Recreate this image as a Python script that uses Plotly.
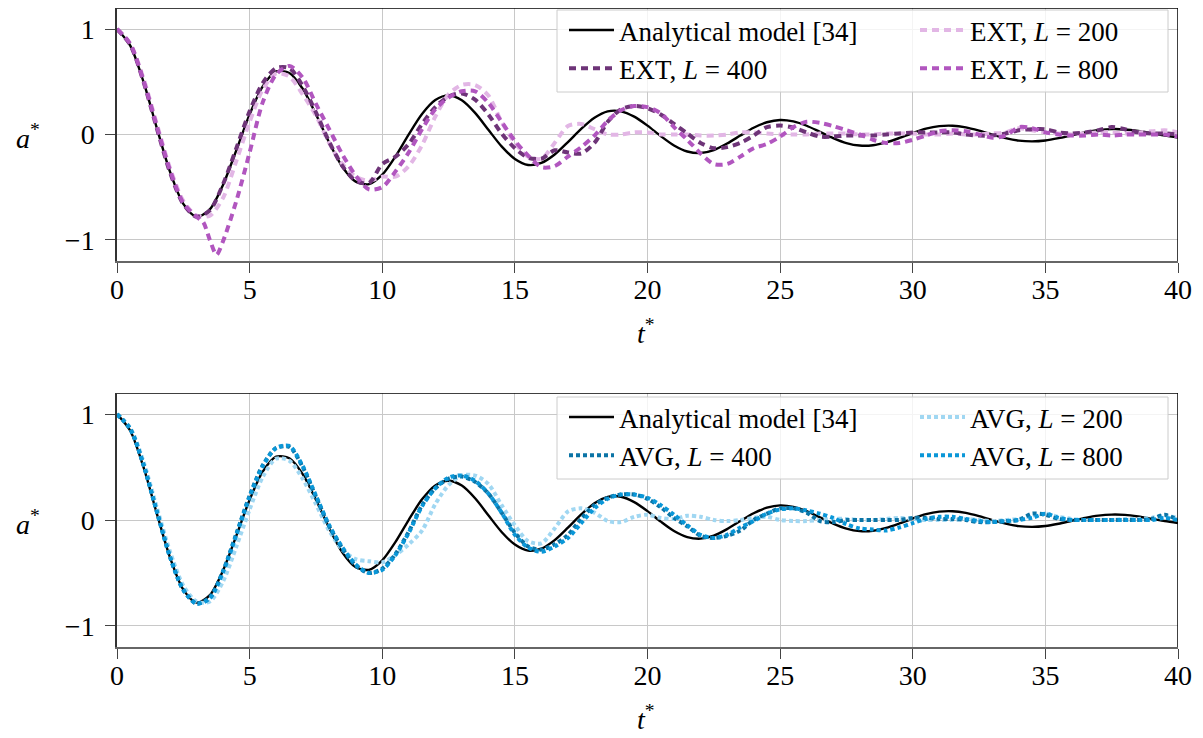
import plotly.graph_objects as go

# Sampling times (t*) shared by most series
T = [0.0, 0.5, 1.0, 1.5, 2.0, 2.5, 3.0, 3.5, 4.0, 4.5,
     5.0, 5.5, 6.0, 6.5, 7.0, 7.5, 8.0, 8.5, 9.0, 9.5,
     10.0, 10.5, 11.0, 11.5, 12.0, 12.5, 13.0, 13.5, 14.0, 14.5,
     15.0, 15.5, 16.0, 16.5, 17.0, 17.5, 18.0, 18.5, 19.0, 19.5,
     20.0, 20.5, 21.0, 21.5, 22.0, 22.5, 23.0, 23.5, 24.0, 24.5,
     25.0, 25.5, 26.0, 26.5, 27.0, 27.5, 28.0, 28.5, 29.0, 29.5,
     30.0, 30.5, 31.0, 31.5, 32.0, 32.5, 33.0, 33.5, 34.0, 34.5,
     35.0, 35.5, 36.0, 36.5, 37.0, 37.5, 38.0, 38.5, 39.0, 39.5,
     40.0]

# Analytical model
ANALYTICAL = [1.000, 0.843, 0.499, 0.063, -0.355, -0.658, -0.781, -0.710, -0.476, -0.148,
              0.191, 0.459, 0.598, 0.584, 0.434, 0.192, -0.077, -0.308, -0.447, -0.471,
              -0.381, -0.207, 0.002, 0.195, 0.327, 0.371, 0.325, 0.205, 0.045, -0.113,
              -0.232, -0.289, -0.270, -0.190, -0.072, 0.053, 0.159, 0.219, 0.220, 0.169,
              0.084, -0.015, -0.104, -0.161, -0.176, -0.148, -0.086, -0.010, 0.064, 0.116,
              0.138, 0.124, 0.083, 0.025, -0.034, -0.081, -0.105, -0.102, -0.075, -0.033,
              0.014, 0.055, 0.079, 0.083, 0.067, 0.036, -0.001, -0.035, -0.058, -0.065,
              -0.057, -0.035, -0.007, 0.020, 0.041, 0.051, 0.048, 0.033, 0.012, -0.010,
              -0.028]

# EXT runs
EXT_200 = [1.00, 0.86, 0.53, 0.10, -0.32, -0.63, -0.77, -0.77, -0.60, -0.25,
           0.12, 0.43, 0.58, 0.55, 0.38, 0.18, -0.08, -0.28, -0.40, -0.44,
           -0.40, -0.40, -0.30, -0.10, 0.17, 0.38, 0.47, 0.47, 0.37, 0.12,
           -0.08, -0.21, -0.23, -0.08, 0.08, 0.10, 0.05, 0.00, 0.00, 0.02,
           0.02, 0.00, 0.00, 0.00, -0.01, -0.01, 0.00, 0.02, 0.02, 0.01,
           0.00, 0.00, 0.00, 0.01, 0.01, 0.01, 0.00, 0.00, 0.01, 0.01,
           0.01, 0.00, 0.00, 0.01, 0.00, 0.00, 0.01, 0.02, 0.06, 0.04,
           0.02, 0.01, 0.00, 0.01, 0.02, 0.02, 0.01, 0.02, 0.03, 0.04,
           0.02]

EXT_400 = [1.00, 0.85, 0.50, 0.06, -0.36, -0.66, -0.78, -0.72, -0.47, -0.13,
           0.22, 0.49, 0.63, 0.63, 0.46, 0.21, -0.07, -0.30, -0.44, -0.46,
           -0.28, -0.21, -0.09, 0.10, 0.26, 0.36, 0.39, 0.33, 0.19, 0.01,
           -0.13, -0.22, -0.23, -0.15, -0.17, -0.18, -0.08, 0.12, 0.24, 0.27,
           0.25, 0.19, 0.10, 0.01, -0.08, -0.13, -0.12, -0.08, -0.01, 0.07,
           0.085, 0.065, 0.02, -0.02, -0.02, -0.01, -0.01, -0.01, 0.00, 0.01,
           0.02, 0.02, 0.02, 0.02, 0.00, -0.01, -0.01, 0.01, 0.04, 0.05,
           0.05, 0.02, 0.01, 0.02, 0.04, 0.07, 0.05, 0.02, 0.01, 0.01,
           0.00]

T_EXT_800 = [0.0, 0.5, 1.0, 1.5, 2.0, 2.5, 3.0, 3.25, 3.5, 3.75, 4.0, 4.5,
             5.0, 5.5, 6.0, 6.5, 7.0, 7.5, 8.0, 8.5, 9.0, 9.5,
             10.0, 10.5, 11.0, 11.5, 12.0, 12.5, 13.0, 13.5, 14.0, 14.5,
             15.0, 15.5, 16.0, 16.5, 17.0, 17.5, 18.0, 18.5, 19.0, 19.5,
             20.0, 20.5, 21.0, 21.5, 22.0, 22.5, 23.0, 23.5, 24.0, 24.5,
             25.0, 25.5, 26.0, 26.5, 27.0, 27.5, 28.0, 28.5, 29.0, 29.5,
             30.0, 30.5, 31.0, 31.5, 32.0, 32.5, 33.0, 33.5, 34.0, 34.5,
             35.0, 35.5, 36.0, 36.5, 37.0, 37.5, 38.0, 38.5, 39.0, 39.5,
             40.0]
EXT_800 = [1.00, 0.86, 0.51, 0.08, -0.34, -0.65, -0.78, -0.83, -1.00, -1.14, -1.01, -0.63,
           -0.17, 0.31, 0.57, 0.65, 0.54, 0.29, 0.05, -0.19, -0.39, -0.52,
           -0.50, -0.35, -0.17, 0.05, 0.24, 0.35, 0.41, 0.41, 0.30, 0.12,
           -0.06, -0.20, -0.31, -0.30, -0.21, -0.12, -0.01, 0.13, 0.23, 0.27,
           0.26, 0.20, 0.07, -0.05, -0.18, -0.28, -0.28, -0.21, -0.13, -0.09,
           -0.02, 0.07, 0.12, 0.11, 0.08, 0.04, 0.00, -0.05, -0.08, -0.08,
           -0.05, -0.01, 0.03, 0.04, 0.03, 0.00, -0.03, -0.01, 0.07, 0.06,
           0.02, 0.00, -0.01, -0.01, 0.00, -0.01, 0.00, 0.00, 0.00, 0.00,
           -0.02]

# AVG runs
AVG_200 = [1.00, 0.87, 0.55, 0.12, -0.30, -0.62, -0.77, -0.77, -0.58, -0.25,
           0.10, 0.41, 0.58, 0.56, 0.39, 0.15, -0.10, -0.28, -0.37, -0.39,
           -0.40, -0.33, -0.23, -0.10, 0.15, 0.33, 0.42, 0.42, 0.34, 0.14,
           -0.05, -0.20, -0.22, -0.08, 0.08, 0.11, 0.07, -0.01, -0.02, 0.03,
           0.05, 0.02, 0.01, 0.04, 0.03, 0.00, -0.01, 0.00, 0.02, 0.03,
           0.00, -0.01, -0.01, 0.00, 0.01, 0.01, 0.00, 0.00, 0.01, 0.02,
           0.01, 0.00, 0.00, 0.00, 0.01, 0.00, -0.01, 0.00, 0.01, 0.04,
           0.06, 0.03, 0.01, 0.00, 0.00, 0.00, 0.01, 0.01, 0.02, 0.04,
           0.02]

AVG_400 = [1.00, 0.86, 0.52, 0.08, -0.35, -0.66, -0.79, -0.73, -0.48, -0.13,
           0.23, 0.52, 0.68, 0.69, 0.50, 0.22, -0.06, -0.27, -0.43, -0.50,
           -0.46, -0.32, -0.11, 0.14, 0.30, 0.39, 0.41, 0.36, 0.25, 0.07,
           -0.12, -0.25, -0.28, -0.23, -0.14, 0.01, 0.14, 0.21, 0.24, 0.24,
           0.20, 0.12, 0.02, -0.06, -0.15, -0.17, -0.15, -0.10, 0.00, 0.06,
           0.11, 0.11, 0.07, -0.01, -0.02, 0.00, 0.00, 0.00, 0.00, 0.00,
           0.02, 0.02, 0.01, 0.01, 0.00, -0.02, -0.02, -0.01, 0.00, 0.06,
           0.05, 0.01, 0.00, 0.00, 0.00, 0.00, 0.00, 0.00, 0.01, 0.05,
           0.00]

AVG_800 = [1.00, 0.86, 0.52, 0.08, -0.35, -0.66, -0.79, -0.74, -0.49, -0.14,
           0.22, 0.51, 0.68, 0.70, 0.51, 0.23, -0.05, -0.26, -0.42, -0.50,
           -0.47, -0.33, -0.12, 0.13, 0.30, 0.40, 0.42, 0.37, 0.25, 0.07,
           -0.14, -0.26, -0.30, -0.25, -0.17, -0.03, 0.11, 0.20, 0.24, 0.24,
           0.21, 0.14, 0.05, -0.05, -0.14, -0.17, -0.14, -0.07, -0.01, 0.06,
           0.10, 0.11, 0.09, 0.06, 0.02, -0.04, -0.08, -0.09, -0.10, -0.07,
           -0.03, 0.01, 0.03, 0.03, 0.01, -0.01, -0.02, -0.01, 0.00, 0.02,
           0.06, 0.02, 0.00, 0.00, 0.00, 0.00, 0.00, 0.00, 0.00, 0.02,
           0.00]

X_TICKS = [0, 5, 10, 15, 20, 25, 30, 35, 40]
Y_TICKS = [-1, 0, 1]

FONT = "Liberation Serif"
W, H = 1203, 738
LEFT, RIGHT = 117, 1178
TOP_PANEL = (8, 261)
BOTTOM_PANEL = (393, 647)

C_BLACK = "#000000"
C_EXT200 = "#e2b6e5"
C_EXT400 = "#6e3478"
C_EXT800 = "#b156bf"
C_AVG200 = "#a0d7f2"
C_AVG400 = "#0b74a6"
C_AVG800 = "#0a97d8"

DASH = "7px,5px"
DOT = "4px,3px"


def px_x(p):
    return p / W


def px_y(p):
    return 1 - p / H


fig = go.Figure()


def add(x, y, name, color, width, dash, xa, ya, legend):
    fig.add_trace(go.Scatter(
        x=x, y=y, name=name, mode="lines",
        line=dict(color=color, width=width, dash=dash, shape="spline", smoothing=0.8),
        xaxis=xa, yaxis=ya, legend=legend, hoverinfo="skip",
    ))


# Upper panel: EXT
add(T, ANALYTICAL, "Analytical model [34]", C_BLACK, 2.4, "solid", "x", "y", "legend")
add(T, EXT_200, "EXT, <i>L</i> = 200", C_EXT200, 4, DASH, "x", "y", "legend2")
add(T, EXT_400, "EXT, <i>L</i> = 400", C_EXT400, 4, DASH, "x", "y", "legend")
add(T_EXT_800, EXT_800, "EXT, <i>L</i> = 800", C_EXT800, 4, DASH, "x", "y", "legend2")

# Lower panel: AVG
add(T, ANALYTICAL, "Analytical model [34]", C_BLACK, 2.4, "solid", "x2", "y2", "legend3")
add(T, AVG_200, "AVG, <i>L</i> = 200", C_AVG200, 4, DOT, "x2", "y2", "legend4")
add(T, AVG_400, "AVG, <i>L</i> = 400", C_AVG400, 4, DOT, "x2", "y2", "legend3")
add(T, AVG_800, "AVG, <i>L</i> = 800", C_AVG800, 4, DOT, "x2", "y2", "legend4")

tick_font = dict(family=FONT, size=28, color="#000000")

xcommon = dict(
    range=[0, 40], tickvals=X_TICKS, ticks="outside", ticklen=10, tickwidth=1,
    tickcolor="#444444", showgrid=True, gridcolor="#c8c8c8", gridwidth=1,
    zeroline=False, showline=True, linecolor="#666666", linewidth=2,
    tickfont=tick_font, automargin=False, domain=[px_x(LEFT), px_x(RIGHT)],
    ticklabelstandoff=-8,
)
ycommon = dict(
    range=[-1.2, 1.2], tickvals=Y_TICKS, ticks="outside", ticklen=10, tickwidth=1,
    tickcolor="#444444", showgrid=True, gridcolor="#c8c8c8", gridwidth=1,
    zeroline=False, showline=True, linecolor="#333333", linewidth=1.5,
    tickfont=tick_font, automargin=False, ticklabelstandoff=5,
)

legend_common = dict(
    xanchor="left", yanchor="top", bgcolor="rgba(0,0,0,0)", borderwidth=0,
    font=dict(family=FONT, size=27, color="#000000"), itemwidth=45,
    tracegroupgap=0, traceorder="normal",
)

label_font = dict(family=FONT, size=28, color="#000000")

shapes = []
annotations = []
for (top, bot), xa, ya, leg_top in [(TOP_PANEL, "x", "y", 10), (BOTTOM_PANEL, "x2", "y2", 397)]:
    # black frame on the top and right sides
    shapes.append(dict(type="line", xref=xa, yref=ya, x0=0, x1=40, y0=1.2, y1=1.2,
                       line=dict(color="#000000", width=1.5), layer="above"))
    shapes.append(dict(type="line", xref=xa, yref=ya, x0=40, x1=40, y0=-1.2, y1=1.2,
                       line=dict(color="#000000", width=1.5), layer="above"))
    # translucent legend box
    shapes.append(dict(type="rect", xref="paper", yref="paper",
                       x0=px_x(557), x1=px_x(1168), y0=px_y(leg_top + 82), y1=px_y(leg_top),
                       fillcolor="rgba(255,255,255,0.8)",
                       line=dict(color="#cccccc", width=1), layer="above"))
    # axis labels
    mid = (top + bot) / 2
    annotations.append(dict(text="<i>a</i><sup>*</sup>", xref="paper", yref="paper",
                            x=px_x(28), y=px_y(mid + 2), xanchor="center", yanchor="middle",
                            showarrow=False, font=label_font))
    annotations.append(dict(text="<i>t</i><sup>*</sup>", xref="paper", yref="paper",
                            x=px_x(646), y=px_y(bot + 70), xanchor="center", yanchor="middle",
                            showarrow=False, font=label_font))

fig.update_layout(
    width=W, height=H,
    margin=dict(l=0, r=0, t=0, b=0),
    paper_bgcolor="#ffffff", plot_bgcolor="#ffffff",
    xaxis=dict(xcommon, anchor="y"),
    yaxis=dict(ycommon, anchor="x", domain=[px_y(TOP_PANEL[1]), px_y(TOP_PANEL[0])]),
    xaxis2=dict(xcommon, anchor="y2"),
    yaxis2=dict(ycommon, anchor="x2", domain=[px_y(BOTTOM_PANEL[1]), px_y(BOTTOM_PANEL[0])]),
    legend=dict(legend_common, x=px_x(564), y=px_y(6)),
    legend2=dict(legend_common, x=px_x(915), y=px_y(6)),
    legend3=dict(legend_common, x=px_x(564), y=px_y(393)),
    legend4=dict(legend_common, x=px_x(915), y=px_y(393)),
    shapes=shapes,
    annotations=annotations,
    showlegend=True,
)

fig.write_html("out.html")
